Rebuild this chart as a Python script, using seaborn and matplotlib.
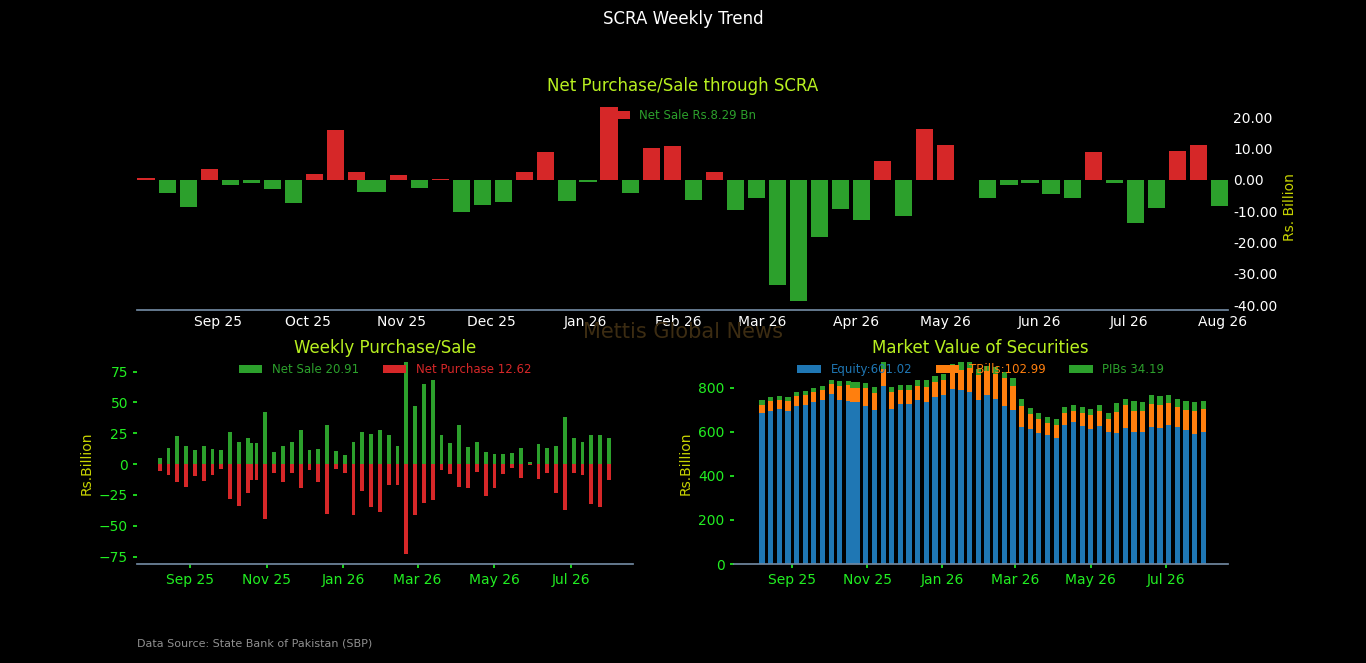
import datetime as dt
import matplotlib
matplotlib.use("Agg")
import matplotlib.pyplot as plt
import matplotlib.dates as mdates
import seaborn as sns

# weekly dates (one extra entry in late October)
base = dt.date(2025, 8, 8)
dates = [base + dt.timedelta(weeks=i) for i in range(11)]
dates += [dt.date(2025, 10, 20)]
dates += [base + dt.timedelta(weeks=i) for i in range(11, 52)]

net = [0.6, -4.1, -8.6, 3.5, -1.8, -0.9, -3.1, -7.6, 1.9, 15.8,
       2.3, -4.0, -4.0, 1.6, -2.8, 0.3, -10.2, -8.0, -7.0, 2.3,
       8.7, -6.7, -0.6, 23.2, -4.4, 10.0, 10.6, -6.4, 2.3, -9.6,
       -5.7, -33.7, -38.6, -18.3, -9.2, -12.8, 6.1, -11.5, 16.1, 11.0,
       0.0, -5.7, -1.8, -0.9, -4.5, -5.7, 8.7, -1.2, -13.8, -8.9,
       9.0, 11.0, -8.29]

sale = [5.1, 13.3, 22.8, 14.6, 11.4, 14.6, 12.2, 11.4, 26.0, 17.9,
        21.1, 17.1, 17.1, 42.3, 9.8, 14.6, 17.9, 27.6, 11.4, 12.2,
        31.7, 10.6, 7.3, 17.9, 26.0, 24.4, 27.6, 23.6, 14.6, 82.7,
        47.2, 65.3, 68.3, 23.6, 17.1, 31.7, 13.8, 17.9, 9.8, 8.1,
        8.1, 8.9, 13.0, 1.6, 16.3, 13.0, 14.6, 38.2, 21.1, 17.9,
        23.6, 23.6, 20.91]
purchase = [5.7, 8.9, 14.6, 18.4, 9.8, 13.8, 8.9, 4.1, 28.5, 33.9,
            23.6, 13.0, 13.0, 44.4, 7.3, 14.6, 7.3, 19.2, 4.9, 14.6,
            40.4, 3.8, 7.3, 41.2, 22.0, 34.7, 38.8, 17.1, 17.1, 72.9,
            41.2, 31.4, 29.3, 4.9, 7.9, 18.7, 19.2, 6.2, 25.7, 19.2,
            7.9, 3.0, 11.1, 0.8, 12.2, 7.3, 23.6, 37.1, 7.3, 8.9,
            32.2, 34.7, 12.62]

equity = [684, 694, 703, 694, 716, 721, 735, 744, 771, 744, 739, 735, 735, 716, 698,
          808, 703, 725, 725, 744, 735, 757, 767, 794, 789, 780, 744, 767, 748, 716,
          698, 621, 611, 593, 584, 570, 630, 643, 625, 611, 625, 598, 593, 616, 598,
          598, 621, 616, 630, 621, 607, 589, 601.02]
tbills = [40, 45, 41, 45, 46, 46, 45, 45, 46, 64, 73, 63, 63, 82, 78,
          77, 77, 64, 64, 64, 68, 69, 68, 82, 92, 110, 114, 109, 114, 128,
          110, 95, 69, 64, 55, 60, 54, 51, 59, 64, 69, 59, 96, 105, 96,
          96, 104, 105, 100, 91, 91, 105, 102.99]
pibs = [20, 18, 18, 18, 18, 18, 18, 19, 18, 22, 18, 28, 28, 23, 27,
        31, 23, 23, 23, 27, 32, 27, 27, 32, 35, 27, 27, 24, 32, 27,
        36, 32, 27, 27, 27, 27, 28, 27, 28, 28, 27, 27, 41, 27, 45,
        41, 42, 41, 37, 36, 41, 41, 34.19]

GREEN, RED, BLUE, ORANGE = "#2ca02c", "#d62728", "#1f77b4", "#ff7f0e"
TITLE_C = "#b8f020"
LABEL_C = "#c8d400"
LIME = "#22ee22"

sns.set_theme(style="dark", rc={"axes.facecolor": "black", "figure.facecolor": "black",
                                "axes.grid": False, "patch.linewidth": 0,
                                "patch.edgecolor": "none"})
plt.rcParams["font.family"] = ["DejaVu Sans"]

fig = plt.figure(figsize=(13.66, 6.63), dpi=100)
fig.suptitle("SCRA Weekly Trend", color="white", fontsize=12, y=0.985)


def style_axes(ax):
    for s in ["top", "left", "right"]:
        ax.spines[s].set_visible(False)
    ax.spines["bottom"].set_color("#7088a0")


# top chart
ax = fig.add_axes([0.1003, 0.5324, 0.799, 0.31])
colors = [RED if v > 0 else GREEN for v in net]
bars = ax.bar(dates, net, width=5.7, color=colors, linewidth=0)
ax.set_xlim(dt.date(2025, 8, 5), dt.date(2026, 8, 3))
ax.set_ylim(-41.6, 24)
ax.yaxis.tick_right()
ax.yaxis.set_label_position("right")
ax.set_yticks([20, 10, 0, -10, -20, -30, -40])
ax.set_yticklabels([f"{v:.2f}" for v in [20, 10, 0, -10, -20, -30, -40]])
ax.set_ylabel("Rs. Billion", color=LABEL_C, fontsize=10)
ax.xaxis.set_major_locator(mdates.MonthLocator(bymonthday=1))
ax.xaxis.set_major_formatter(mdates.DateFormatter("%b %y"))
ax.tick_params(colors="white", labelsize=10, length=0)
ax.set_title("Net Purchase/Sale through SCRA", color=TITLE_C, fontsize=12, pad=10)
style_axes(ax)
leg = ax.legend([bars[-1]], [f"Net Sale Rs.{abs(net[-1]):.2f} Bn"], loc="upper center",
                frameon=False, fontsize=8.5, handlelength=1.2, bbox_to_anchor=(0.503, 1.03))
leg.legend_handles[0].set_color(RED)
leg.get_texts()[0].set_color(GREEN)

# bottom-left chart
ax2 = fig.add_axes([0.1003, 0.1493, 0.363, 0.305])
ax2.bar(dates, sale, width=3.0, color=GREEN, linewidth=0, label=f"Net Sale {sale[-1]:.2f}")
ax2.bar(dates, [-p for p in purchase], width=3.0, color=RED, linewidth=0,
        label=f"Net Purchase {purchase[-1]:.2f}")
ax2.set_xlim(dt.date(2025, 7, 21), dt.date(2026, 8, 19))
ax2.set_ylim(-81, 83)
ax2.set_yticks([75, 50, 25, 0, -25, -50, -75])
ax2.xaxis.set_major_locator(mdates.MonthLocator(bymonth=[1, 3, 5, 7, 9, 11]))
ax2.xaxis.set_major_formatter(mdates.DateFormatter("%b %y"))
ax2.tick_params(colors=LIME, labelsize=10, length=3, left=True, bottom=True)
ax2.set_ylabel("Rs.Billion", color=LABEL_C, fontsize=10)
ax2.set_title("Weekly Purchase/Sale", color=TITLE_C, fontsize=12, pad=6)
style_axes(ax2)
leg2 = ax2.legend(loc="upper center", ncol=2, frameon=False, fontsize=8.5,
                  bbox_to_anchor=(0.5, 1.045), columnspacing=2)
for t, c in zip(leg2.get_texts(), [GREEN, RED]):
    t.set_color(c)

# bottom-right chart
ax3 = fig.add_axes([0.537, 0.1493, 0.362, 0.305])
bottom2 = [e + t for e, t in zip(equity, tbills)]
ax3.bar(dates, equity, width=4.2, color=BLUE, linewidth=0, label=f"Equity:{equity[-1]:.2f}")
ax3.bar(dates, tbills, width=4.2, bottom=equity, color=ORANGE, linewidth=0,
        label=f"TBills:{tbills[-1]:.2f}")
ax3.bar(dates, pibs, width=4.2, bottom=bottom2, color=GREEN, linewidth=0,
        label=f"PIBs {pibs[-1]:.2f}")
ax3.set_xlim(dt.date(2025, 7, 16), dt.date(2026, 8, 20))
ax3.set_ylim(0, 918)
ax3.set_yticks([0, 200, 400, 600, 800])
ax3.xaxis.set_major_locator(mdates.MonthLocator(bymonth=[1, 3, 5, 7, 9, 11]))
ax3.xaxis.set_major_formatter(mdates.DateFormatter("%b %y"))
ax3.tick_params(colors=LIME, labelsize=10, length=3, left=True, bottom=True)
ax3.set_ylabel("Rs.Billion", color=LABEL_C, fontsize=10)
ax3.set_title("Market Value of Securities", color=TITLE_C, fontsize=12, pad=6)
style_axes(ax3)
leg3 = ax3.legend(loc="upper center", ncol=3, frameon=False, fontsize=8.5,
                  bbox_to_anchor=(0.5, 1.045), columnspacing=2)
for t, c in zip(leg3.get_texts(), [BLUE, ORANGE, GREEN]):
    t.set_color(c)

fig.text(0.5, 0.50, "Mettis Global News", color="#3c2c12", fontsize=15, ha="center", va="center")
fig.text(0.1003, 0.025, "Data Source: State Bank of Pakistan (SBP)", color="#909090", fontsize=8)

fig.savefig("out.png", dpi=100, facecolor="black")
